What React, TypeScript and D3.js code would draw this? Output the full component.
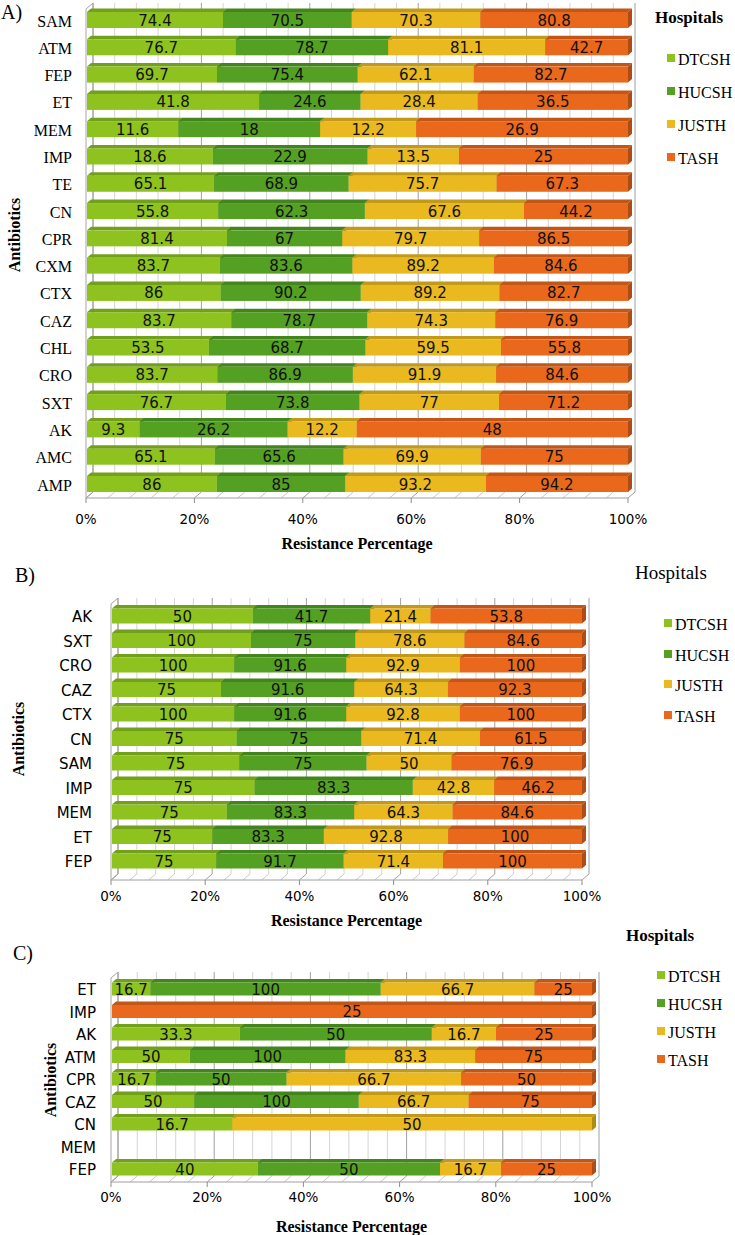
import * as d3 from "d3";

// hospitals (series) and their colours
const hospitals = ["DTCSH", "HUCSH", "JUSTH", "TASH"];
const frontColors = ["#8ec21f", "#54a023", "#e9b91f", "#e9681c"];
const topColors = ["#72a01a", "#43851c", "#c29a18", "#c25617"];
const sideColors = ["#66901a", "#3b7519", "#b08b14", "#ad4c14"];

const ticks = [0, 0.2, 0.4, 0.6, 0.8, 1];

// ---- panel A ----
const antibioticsA = ["SAM", "ATM", "FEP", "ET", "MEM", "IMP", "TE", "CN", "CPR", "CXM", "CTX", "CAZ", "CHL", "CRO", "SXT", "AK", "AMC", "AMP"];
const dtcshA = [74.4, 76.7, 69.7, 41.8, 11.6, 18.6, 65.1, 55.8, 81.4, 83.7, 86, 83.7, 53.5, 83.7, 76.7, 9.3, 65.1, 86];
const hucshA = [70.5, 78.7, 75.4, 24.6, 18, 22.9, 68.9, 62.3, 67, 83.6, 90.2, 78.7, 68.7, 86.9, 73.8, 26.2, 65.6, 85];
const justhA = [70.3, 81.1, 62.1, 28.4, 12.2, 13.5, 75.7, 67.6, 79.7, 89.2, 89.2, 74.3, 59.5, 91.9, 77, 12.2, 69.9, 93.2];
const tashA = [80.8, 42.7, 82.7, 36.5, 26.9, 25, 67.3, 44.2, 86.5, 84.6, 82.7, 76.9, 55.8, 84.6, 71.2, 48, 75, 94.2];

// ---- panel B ----
const antibioticsB = ["AK", "SXT", "CRO", "CAZ", "CTX", "CN", "SAM", "IMP", "MEM", "ET", "FEP"];
const dtcshB = [50, 100, 100, 75, 100, 75, 75, 75, 75, 75, 75];
const hucshB = [41.7, 75, 91.6, 91.6, 91.6, 75, 75, 83.3, 83.3, 83.3, 91.7];
const justhB = [21.4, 78.6, 92.9, 64.3, 92.8, 71.4, 50, 42.8, 64.3, 92.8, 71.4];
const tashB = [53.8, 84.6, 100, 92.3, 100, 61.5, 76.9, 46.2, 84.6, 100, 100];

// ---- panel C ----
const antibioticsC = ["ET", "IMP", "AK", "ATM", "CPR", "CAZ", "CN", "MEM", "FEP"];
const dtcshC = [16.7, null, 33.3, 50, 16.7, 50, 16.7, null, 40];
const hucshC = [100, null, 50, 100, 50, 100, null, null, 50];
const justhC = [66.7, null, 16.7, 83.3, 66.7, 66.7, 50, null, 16.7];
const tashC = [25, 25, 25, 75, 50, 75, null, null, 25];

type Layout = {
  x0: number; x1: number; yTop: number; yFloor: number;
  rowFirst: number; rowLast: number; barH: number;
  catX: number; catFont: string; catSize: number;
  tickY: number; titleY: number; ylabelX: number; ylabelY: number;
  letter: string; letterX: number; letterY: number;
  legX: number; legTitleY: number; legBold: boolean; legTitleSize: number;
  sqX: number; legTextX: number; legYs: number[];
};

const sans = "'DejaVu Sans', Verdana, sans-serif";
const serif = "'Liberation Serif', 'Times New Roman', serif";

function Panel({ cats, series, L }: { cats: string[]; series: (number | null)[][]; L: Layout }) {
  const dx = 7, dy = -6;
  const bdx = 4, bdy = -3.5;
  const rows = cats.map((c, i) => {
    const r: any = { cat: c };
    hospitals.forEach((h, k) => (r[h] = series[k][i] ?? 0));
    return r;
  });
  const stacked = d3.stack().keys(hospitals).offset(d3.stackOffsetExpand)(rows);
  const x = d3.scaleLinear([0, 1], [L.x0 + 1, L.x1]);
  const xf = d3.scaleLinear([0, 1], [L.x0, L.x1]);
  const y = d3.scalePoint(cats, [L.rowFirst, L.rowLast]);
  const minor = d3.range(0, 1.0001, 0.04);
  const yBackFloor = L.yFloor + dy;

  return (
    <g>
      <text x={L.letterX} y={L.letterY} dominantBaseline="central" fontFamily={serif} fontSize={20}>{L.letter}</text>
      {/* left wall */}
      <polygon
        points={`${L.x0},${L.yFloor} ${L.x0},${L.yTop - dy} ${L.x0 + dx},${L.yTop} ${L.x0 + dx},${yBackFloor}`}
        fill="#fff" stroke="#a6a6a6" strokeWidth={1}
      />
      {/* back wall gridlines */}
      {minor.map((v, i) => (
        <line key={"g" + i} x1={xf(v) + dx} x2={xf(v) + dx} y1={L.yTop} y2={yBackFloor}
          stroke={i % 5 === 0 ? "#a0a0a0" : "#d4d4d4"} strokeWidth={1} />
      ))}
      {/* floor */}
      {minor.map((v, i) => (
        <line key={"f" + i} x1={xf(v)} y1={L.yFloor} x2={xf(v) + dx} y2={yBackFloor}
          stroke={i % 5 === 0 ? "#a0a0a0" : "#c8c8c8"} strokeWidth={1} />
      ))}
      <line x1={L.x0} x2={L.x1} y1={L.yFloor} y2={L.yFloor} stroke="#a0a0a0" />
      {ticks.map((t) => (
        <g key={"t" + t}>
          <line x1={xf(t)} x2={xf(t)} y1={L.yFloor} y2={L.yFloor + 5} stroke="#8c8c8c" />
          <text x={xf(t)} y={L.tickY} textAnchor="middle" dominantBaseline="central" fontFamily={sans} fontSize={13.5}>
            {d3.format(".0%")(t)}
          </text>
        </g>
      ))}
      {/* bars */}
      {rows.map((r, i) => {
        const yc = y(r.cat)!;
        const top = yc - L.barH / 2, bot = yc + L.barH / 2;
        return (
          <g key={"r" + i}>
            {stacked.map((s, k) => {
              const a = x(s[i][0]), b = x(s[i][1]);
              if (!(b - a > 0.1)) return null;
              return (
                <g key={k}>
                  <polygon points={`${a},${top} ${b},${top} ${b + bdx},${top + bdy} ${a + bdx},${top + bdy}`} fill={topColors[k]} />
                  <polygon points={`${b},${top} ${b + bdx},${top + bdy} ${b + bdx},${bot + bdy} ${b},${bot}`} fill={sideColors[k]} />
                  <rect x={a} y={top} width={b - a} height={L.barH} fill={frontColors[k]} />
                </g>
              );
            })}
            {stacked.map((s, k) => {
              const a = x(s[i][0]), b = x(s[i][1]);
              if (!(b - a > 0.1)) return null;
              return (
                <text key={"v" + k} x={(a + b) / 2} y={yc + 0.5} textAnchor="middle" dominantBaseline="central"
                  fontFamily={sans} fontSize={15} fill="#111">
                  {series[k][i]}
                </text>
              );
            })}
            <text x={L.catX} y={yc + 1} textAnchor="end" dominantBaseline="central" fontFamily={L.catFont} fontSize={L.catSize}>
              {r.cat}
            </text>
          </g>
        );
      })}
      {/* axis titles */}
      <text x={(L.x0 + L.x1) / 2} y={L.titleY} textAnchor="middle" dominantBaseline="central" fontFamily={serif} fontWeight="bold" fontSize={16}>
        Resistance Percentage
      </text>
      <text transform={`translate(${L.ylabelX},${L.ylabelY}) rotate(-90)`} textAnchor="middle" dominantBaseline="central"
        fontFamily={serif} fontWeight="bold" fontSize={16}>
        Antibiotics
      </text>
      {/* legend */}
      <text x={L.legX} y={L.legTitleY} dominantBaseline="central" fontFamily={serif}
        fontWeight={L.legBold ? "bold" : "normal"} fontSize={L.legTitleSize}>
        Hospitals
      </text>
      {hospitals.map((h, k) => (
        <g key={h}>
          <rect x={L.sqX} y={L.legYs[k] - 4} width={8} height={8} fill={frontColors[k]} />
          <text x={L.legTextX} y={L.legYs[k] + 1} dominantBaseline="central" fontFamily={serif} fontSize={16}>{h}</text>
        </g>
      ))}
    </g>
  );
}

const layoutA: Layout = {
  x0: 86, x1: 628, yTop: 3, yFloor: 498, rowFirst: 20, rowLast: 484, barH: 16,
  catX: 72, catFont: serif, catSize: 16, tickY: 519, titleY: 543, ylabelX: 14, ylabelY: 235,
  letter: "A)", letterX: 1, letterY: 12,
  legX: 655, legTitleY: 17, legBold: true, legTitleSize: 17, sqX: 667, legTextX: 678, legYs: [58, 91, 124, 157],
};
const layoutB: Layout = {
  x0: 111, x1: 582, yTop: 598, yFloor: 880, rowFirst: 616, rowLast: 861, barH: 15,
  catX: 92, catFont: sans, catSize: 15, tickY: 896, titleY: 920, ylabelX: 18, ylabelY: 739,
  letter: "B)", letterX: 15, letterY: 575,
  legX: 635, legTitleY: 572, legBold: false, legTitleSize: 19, sqX: 664, legTextX: 675, legYs: [623, 654, 684, 715],
};
const layoutC: Layout = {
  x0: 111, x1: 592, yTop: 972, yFloor: 1182, rowFirst: 989, rowLast: 1169, barH: 13,
  catX: 96, catFont: sans, catSize: 15, tickY: 1197, titleY: 1226, ylabelX: 50, ylabelY: 1080,
  letter: "C)", letterX: 13, letterY: 953,
  legX: 626, legTitleY: 935, legBold: true, legTitleSize: 17, sqX: 657, legTextX: 668, legYs: [975, 1003, 1031, 1059],
};

export default function App() {
  return (
    <svg width={735} height={1235} style={{ position: "absolute", left: 0, top: 0, background: "#fff" }}>
      <Panel cats={antibioticsA} series={[dtcshA, hucshA, justhA, tashA]} L={layoutA} />
      <Panel cats={antibioticsB} series={[dtcshB, hucshB, justhB, tashB]} L={layoutB} />
      <Panel cats={antibioticsC} series={[dtcshC, hucshC, justhC, tashC]} L={layoutC} />
    </svg>
  );
}
